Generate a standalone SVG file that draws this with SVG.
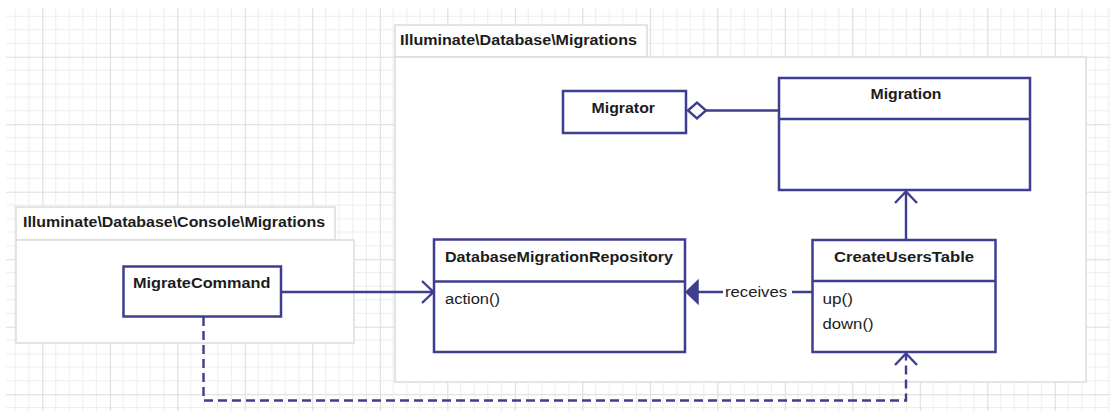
<svg xmlns="http://www.w3.org/2000/svg" width="1110" height="411" viewBox="0 0 1110 411">
<style>
.pkg{fill:#ffffff;stroke:#dcdcdc;stroke-width:1.5}
.box{fill:#ffffff;stroke:#3f3d8f;stroke-width:2.5}
.sep{stroke:#3f3d8f;stroke-width:2.5}
.ln{fill:none;stroke:#3f3d8f;stroke-width:2.4}
.dash{fill:none;stroke:#3f3d8f;stroke-width:2.4;stroke-dasharray:9 5}
.t{font-family:"Liberation Sans",Arial,sans-serif;font-size:14px;fill:#1c1c1c}
.b{font-weight:bold}
</style>
<defs>
<pattern id="grid" patternUnits="userSpaceOnUse" x="42.3" y="56.7" width="67.5" height="67.5">
<path d="M13.5 0V67.5M27 0V67.5M40.5 0V67.5M54 0V67.5M0 13.5H67.5M0 27H67.5M0 40.5H67.5M0 54H67.5" stroke="#ededed" stroke-width="1" fill="none"/>
<path d="M0.5 0V67.5M0 0.5H67.5" stroke="#dcdcdc" stroke-width="1.2" fill="none"/>
</pattern>
</defs>
<rect x="0" y="0" width="1110" height="411" fill="#ffffff"/>
<rect x="6" y="8" width="1104" height="403" fill="url(#grid)"/>

<g id="pkg-migrations">
<rect class="pkg" x="395" y="25" width="252" height="32"/>
<rect class="pkg" x="395" y="57" width="691" height="325"/>
<text class="t b" x="400" y="45" textLength="237" lengthAdjust="spacingAndGlyphs">Illuminate\Database\Migrations</text>
</g>

<g id="pkg-console">
<rect class="pkg" x="16" y="207" width="319" height="33"/>
<rect class="pkg" x="16" y="240" width="338" height="103"/>
<text class="t b" x="23" y="227" textLength="302" lengthAdjust="spacingAndGlyphs">Illuminate\Database\Console\Migrations</text>
</g>

<g id="connectors">
<path class="ln" d="M706 110.5H779"/>
<polygon points="688,110.5 697,102.5 706,110.5 697,118.5" fill="#ffffff" stroke="#3f3d8f" stroke-width="2.4"/>
<path class="ln" d="M906 240V192"/>
<path class="ln" d="M895 203L906 191.5L917 203"/>
<path class="ln" d="M281 292H433"/>
<path class="ln" d="M422 281L433.5 292L422 303"/>
<path class="ln" d="M812 292H792M723 292H697"/>
<polygon points="686,292 698,280.5 698,303.5" fill="#3f3d8f" stroke="#3f3d8f" stroke-width="1.5"/>
<text class="t" x="725" y="297" textLength="62" lengthAdjust="spacingAndGlyphs">receives</text>
<path class="dash" d="M203.5 317V400.5H906V354"/>
<path class="ln" d="M895 365L906 353.5L917 365"/>
</g>

<g id="node-migrator">
<rect class="box" x="563" y="91" width="123" height="42"/>
<text class="t b" x="591.5" y="113" textLength="63.5" lengthAdjust="spacingAndGlyphs">Migrator</text>
</g>

<g id="node-migration">
<rect class="box" x="779" y="78" width="251" height="112"/>
<line class="sep" x1="779" y1="119" x2="1030" y2="119"/>
<text class="t b" x="870.5" y="98.5" textLength="71" lengthAdjust="spacingAndGlyphs">Migration</text>
</g>

<g id="node-migratecommand">
<rect class="box" x="123.5" y="266.5" width="157.5" height="50"/>
<text class="t b" x="133" y="287.5" textLength="137.5" lengthAdjust="spacingAndGlyphs">MigrateCommand</text>
</g>

<g id="node-repository">
<rect class="box" x="434" y="239.5" width="251" height="112.5"/>
<line class="sep" x1="434" y1="281.5" x2="685" y2="281.5"/>
<text class="t b" x="445" y="262" textLength="228" lengthAdjust="spacingAndGlyphs">DatabaseMigrationRepository</text>
<text class="t" x="445" y="303.5" textLength="55" lengthAdjust="spacingAndGlyphs">action()</text>
</g>

<g id="node-createuserstable">
<rect class="box" x="812.5" y="240" width="183" height="112"/>
<line class="sep" x1="812.5" y1="281" x2="995.5" y2="281"/>
<text class="t b" x="834" y="262" textLength="140" lengthAdjust="spacingAndGlyphs">CreateUsersTable</text>
<text class="t" x="822.5" y="303.5" textLength="30.5" lengthAdjust="spacingAndGlyphs">up()</text>
<text class="t" x="822.5" y="328.5" textLength="51" lengthAdjust="spacingAndGlyphs">down()</text>
</g>
</svg>
